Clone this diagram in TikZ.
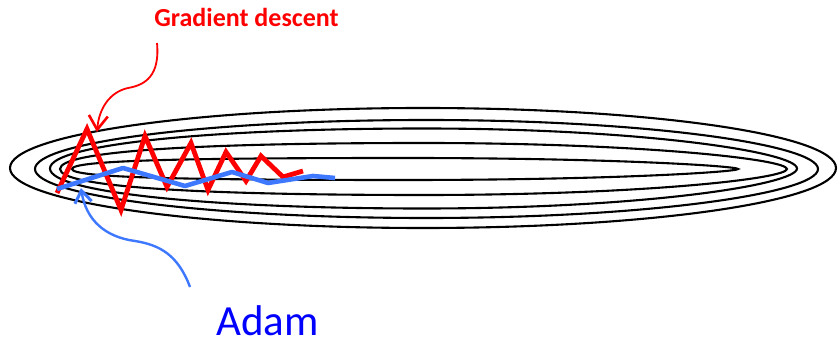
\documentclass[tikz,border=0pt]{standalone}
\usepackage{fontspec}
\setmainfont{Carlito}
\usetikzlibrary{arrows.meta}
\definecolor{gdred}{RGB}{255,0,0}
\definecolor{adamline}{RGB}{62,120,255}
\definecolor{adamtext}{RGB}{0,0,255}
\tikzset{
  contour/.style={draw=black, line width=2.1pt},
  gdpath/.style={draw=gdred, line width=4.8pt, line join=miter, line cap=butt},
  adampath/.style={draw=adamline, line width=4.6pt, line join=round, line cap=butt},
  gdarrow/.style={draw=gdred, line width=1.8pt, -{Straight Barb[length=14pt,width=19pt,line width=2.6pt]}},
  adamarrow/.style={draw=adamline, line width=2.4pt, -{Straight Barb[length=12pt,width=17pt,line width=3pt]}},
  lbl/.style={anchor=base, inner sep=0pt}
}
% #1 L, #2 R, #3 centre y, #4 half height, #5 left bluntness, #6 right pointiness
\newcommand\eggcontour[6]{%
  \pgfmathsetmacro\eT{(#1+#2)/2}%
  \pgfmathsetmacro\eLa{#3-(0.552+0.45*#5)*#4}%
  \pgfmathsetmacro\eLb{#3+(0.552+0.45*#5)*#4}%
  \pgfmathsetmacro\eLx{#1+(0.448-0.25*#5)*(\eT-#1)}%
  \pgfmathsetmacro\eRx{\eT+(0.552+0.08*#6)*(#2-\eT)}%
  \pgfmathsetmacro\eRa{#3-(0.552-0.3*#6)*#4}%
  \pgfmathsetmacro\eRb{#3+(0.552-0.3*#6)*#4}%
  \pgfmathsetmacro\eTop{#3-#4}%
  \pgfmathsetmacro\eBot{#3+#4}%
  \draw[contour] (#1,#3) .. controls (#1,\eLa) and (\eLx,\eTop) .. (\eT,\eTop)
    .. controls (\eRx,\eTop) and (#2,\eRa) .. (#2,#3)
    .. controls (#2,\eRb) and (\eRx,\eBot) .. (\eT,\eBot)
    .. controls (\eLx,\eBot) and (#1,\eLb) .. cycle;%
}
\begin{document}
\begin{tikzpicture}[x=1pt,y=-1pt]
\useasboundingbox (0,0) rectangle (838,347);
% contour lines
\eggcontour{10}{836}{168}{60}{0}{0}
\eggcontour{35}{818}{169}{49}{0}{0.2}
\eggcontour{50}{797}{168.5}{40}{0.1}{0.5}
\eggcontour{60}{787}{169}{26}{0.3}{0.6}
\eggcontour{72}{738}{169}{11}{0.5}{1}
% gradient descent path
\draw[gdpath] (57,193) -- (87,129) -- (121,210) -- (145,136) -- (167,187) -- (191,143)
  -- (208,190) -- (226,152) -- (246,181) -- (261,156) -- (283,177) -- (303,171);
% adam path
\draw[adampath] (57,189) -- (123,168) -- (185,186) -- (232,172) -- (268,183) -- (313,176) -- (335,178);
% labels
\node[lbl, text=gdred, font=\bfseries\fontsize{26}{30}\selectfont] (gd) at (246.5,27) {Gradient descent};
\node[lbl, text=adamtext, font=\fontsize{43}{48}\selectfont] (adam) at (267.5,335) {Adam};
% arrows
\coordinate (gdstart) at (157,43);
\coordinate (gdtip) at (97,132);
\coordinate (adamstart) at (190,287);
\coordinate (adamtip) at (81,188);
\draw[gdarrow] (gdstart) .. controls (160,75) and (146,85) .. (128,88)
  .. controls (110,92) and (99,108) .. (gdtip);
\draw[adamarrow] (adamstart) .. controls (178,255) and (160,245) .. (135,241)
  .. controls (105,237) and (86,220) .. (adamtip);
\end{tikzpicture}
\end{document}
